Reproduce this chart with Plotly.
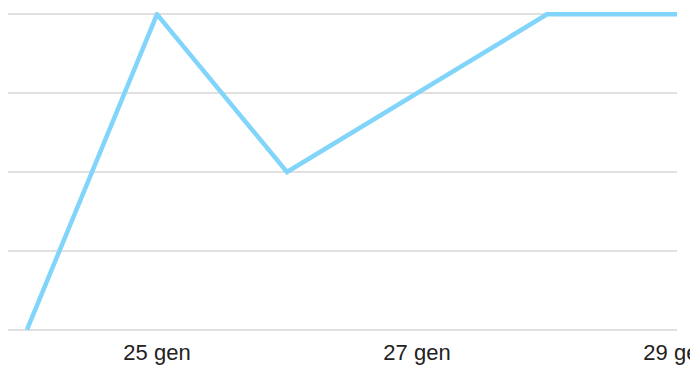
import plotly.graph_objects as go

# Daily values for late January
days = [24, 25, 26, 27, 28, 29]
values = [0, 4, 2, 3, 4, 4]
tick_days = [25, 27, 29]
tick_labels = ["25 gen", "27 gen", "29 gen"]

# Pad the value range a little so the outer gridlines are drawn
pad = 0.03
unit_px = 79  # pixel height of one value step
top_px = 14 - pad * unit_px
bottom_px = 365 - 330 - pad * unit_px

fig = go.Figure(
    go.Scatter(
        x=days,
        y=values,
        mode="lines",
        line=dict(color="#81D4FA", width=4.5),
        hoverinfo="skip",
        cliponaxis=False,
    )
)

fig.update_layout(
    width=690,
    height=365,
    margin=dict(l=8, r=13, t=top_px, b=bottom_px, autoexpand=False),
    paper_bgcolor="white",
    plot_bgcolor="white",
    showlegend=False,
    font=dict(family="Liberation Sans, Arial, sans-serif", size=22, color="#222222"),
)

fig.update_xaxes(
    range=[23.854, 29],
    tickvals=tick_days,
    ticktext=tick_labels,
    showgrid=False,
    zeroline=False,
    showline=False,
    ticks="",
    ticklabelstandoff=5,
    ticklabeloverflow="allow",
    automargin=False,
)

fig.update_yaxes(
    range=[-pad, 4 + pad],
    dtick=1,
    showgrid=True,
    gridcolor="#e0e0e0",
    gridwidth=1.5,
    zeroline=False,
    showline=False,
    showticklabels=False,
    ticks="",
    automargin=False,
)

fig.write_html("out.html")
